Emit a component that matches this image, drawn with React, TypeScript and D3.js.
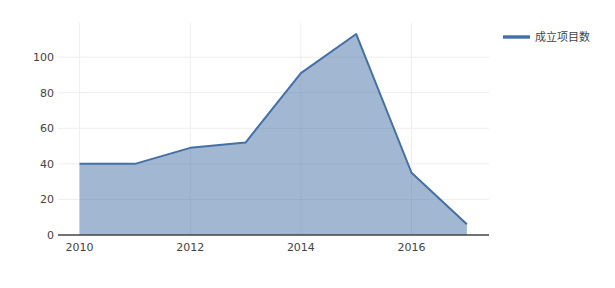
import React from "react";
import * as d3 from "d3";

const years = [2010, 2011, 2012, 2013, 2014, 2015, 2016, 2017];
const projects = [40, 40, 49, 52, 91, 113, 35, 6];
const xTicks = [2010, 2012, 2014, 2016];
const yTicks = [0, 20, 40, 60, 80, 100];
const seriesName = "成立项目数";

const W = 615, H = 288;
const L = 58, R = 489, T = 23, B = 235;

export default function App() {
  const x = d3.scaleLinear().domain([2009.61, 2017.4]).range([L, R]);
  const y = d3.scaleLinear().domain([0, 119.2]).range([B, T]);
  const pts = years.map((yr, i) => [yr, projects[i]] as [number, number]);
  const area = d3.area<[number, number]>().x(d => x(d[0])).y0(y(0)).y1(d => y(d[1]))(pts) || "";
  const line = d3.line<[number, number]>().x(d => x(d[0])).y(d => y(d[1]))(pts) || "";
  const color = "#4570a6";
  const font = "'DejaVu Sans', Verdana, sans-serif";
  return (
    <div style={{ position: "fixed", left: 0, top: 0 }}>
      <svg width={W} height={H} style={{ display: "block", background: "#fff" }}>
        {yTicks.filter(t => t > 0).map(t => (
          <line key={"hy" + t} x1={L} x2={R} y1={y(t)} y2={y(t)} stroke="#eeeeee" strokeWidth={1} />
        ))}
        {xTicks.map(t => (
          <line key={"vx" + t} x1={x(t)} x2={x(t)} y1={T} y2={B} stroke="#eeeeee" strokeWidth={1} />
        ))}
        <path d={area} fill={color} fillOpacity={0.5} />
        <path d={line} fill="none" stroke={color} strokeWidth={2} strokeLinejoin="round" />
        <line x1={L} x2={R} y1={y(0)} y2={y(0)} stroke="#444" strokeWidth={1.5} />
        {yTicks.map(t => (
          <text key={"ty" + t} x={L - 4} y={y(t)} dy="0.35em" textAnchor="end" fontFamily={font} fontSize={11} fill="#444">{t}</text>
        ))}
        {xTicks.map(t => (
          <text key={"tx" + t} x={x(t)} y={B + 16} textAnchor="middle" fontFamily={font} fontSize={11} fill="#444">{t}</text>
        ))}
        <line x1={503} x2={530} y1={37} y2={37} stroke={color} strokeWidth={4} strokeOpacity={0.7} />
        <line x1={503} x2={530} y1={37} y2={37} stroke={color} strokeWidth={2} />
        <text x={535} y={37} dy="0.35em" fontFamily="'Noto Sans CJK SC', sans-serif" fontSize={11} fill="#444">{seriesName}</text>
      </svg>
    </div>
  );
}
